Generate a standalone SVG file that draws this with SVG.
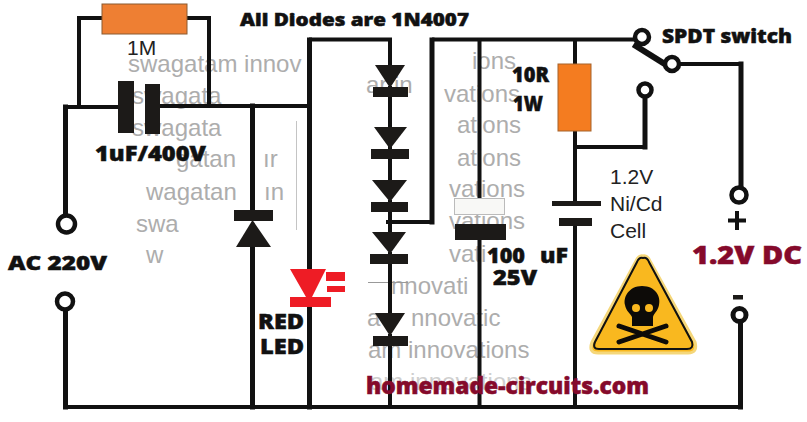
<svg xmlns="http://www.w3.org/2000/svg" width="807" height="422" viewBox="0 0 807 422">
<style>
.w{fill:none;stroke:#111;stroke-width:4;stroke-linecap:square}
.t{stroke:#111;stroke-width:5}
.k{fill:#1c1a18}
.p{fill:#fff;stroke:#111;stroke-width:4.5}
.g{font-family:"Liberation Sans",Arial,sans-serif;font-size:24px;fill:#adadad}
.b{font-family:"Open Sans","Noto Sans",sans-serif;font-weight:800;fill:#111;stroke:#111;stroke-width:.5}
.m{fill:#850a2b;stroke:#850a2b}
.r{font-family:"Liberation Sans",Arial,sans-serif;font-size:21px;fill:#222}
</style>
<rect width="807" height="422" fill="#fff"/>
<g id="watermark">
<text class="g" x="128" y="72">swagatam innov</text>
<text class="g" x="132" y="104">swagata</text>
<text class="g" x="132" y="136">swagata</text>
<text class="g" x="176" y="167">gatan</text>
<text class="g" x="263" y="167">ır</text>
<text class="g" x="146" y="200">wagatan</text>
<text class="g" x="264" y="200">ın</text>
<text class="g" x="136" y="232">swa</text>
<text class="g" x="146" y="263">w</text>
<text class="g" x="366" y="93">ar in</text>
<text class="g" x="472" y="69">ions</text>
<text class="g" x="444" y="102">vations</text>
<text class="g" x="457" y="133">ations</text>
<text class="g" x="457" y="166">ations</text>
<text class="g" x="449" y="197">vations</text>
<text class="g" x="449" y="229">vations</text>
<text class="g" x="449" y="262">vati</text>
<text class="g" x="391" y="294">nnovati</text>
<text class="g" x="367" y="326">a</text>
<text class="g" x="411" y="326">nnovatic</text>
<text class="g" x="368" y="358">am innovations</text>
<text class="g" x="370" y="390" style="fill:#cfcfcf">am innovations</text>
<path d="M296.500 121V230" stroke="#c4c4c4" stroke-width="1" fill="none"/>
<path d="M368 282.500H408" stroke="#999" stroke-width="1" fill="none"/>
</g>
<g id="connectors">
<path class="w" d="M79 107V18H102M187 18H209V106"/>
<path class="w" d="M66 107H118M160 106H309"/>
<path class="w t" d="M65.500 107V215M65.500 308V407"/>
<path class="w" d="M66 407H738"/>
<path class="w t" d="M252.500 106V210M252.500 246V407"/>
<path class="w t" d="M309.500 40V407"/>
<path class="w" d="M311 39.500H390V65M390 88V127M390 148V180M390 202V232M390 254V313M390 336V407"/>
<path class="w" d="M388 222H432"/>
<path class="w t" d="M432 222V40"/>
<path class="w" d="M434 39.500H636"/>
<path class="w" d="M479.500 40V197M479.500 240V407"/>
<path class="w" d="M575 40V64M575 131V203M575 226V407"/>
<path class="w" d="M575 147H645"/>
<path class="w t" d="M645 147V97"/>
<path class="w" d="M636 46L668 66" style="stroke-width:6"/>
<path class="w" d="M679 64H741"/>
<path class="w t" d="M741 64V187M740.500 322V407"/>
</g>
<g id="r1"><rect x="102" y="4" width="85" height="30" fill="#ee7f33" stroke="#8a5a30" stroke-width="1"/><text class="r" x="127" y="55">1M</text></g>
<g id="c1"><rect class="k" x="118" y="81" width="16" height="52"/><rect class="k" x="145" y="84" width="15" height="50"/><text class="b" x="95" y="161" font-size="21" textLength="111" lengthAdjust="spacingAndGlyphs">1uF/400V</text></g>
<g id="ac"><circle class="p" cx="66.500" cy="224" r="8.500"/><circle class="p" cx="65" cy="301.500" r="8"/><text class="b" x="8" y="270" font-size="20" textLength="99" lengthAdjust="spacingAndGlyphs">AC 220V</text></g>
<g id="zener"><rect class="k" x="234" y="210" width="39" height="11"/><path class="k" d="M252.500 220L271 247H236Z"/></g>
<g id="led"><path fill="#ee1c25" d="M290 269H326L312 297H331V307H290V297H306ZM326 272H345V281H326ZM327 286H345V292H327Z"/><text class="b" x="258" y="329" font-size="21" textLength="46" lengthAdjust="spacingAndGlyphs">RED</text><text class="b" x="260" y="354" font-size="21" textLength="44" lengthAdjust="spacingAndGlyphs">LED</text></g>
<g id="d1"><path class="k" d="M375 65H405L390 88Z"/><rect class="k" x="373" y="87" width="35" height="10"/></g>
<g id="d2"><path class="k" d="M374 127H407L390 149Z"/><rect class="k" x="371" y="149" width="38" height="10"/></g>
<g id="d3"><path class="k" d="M372 180H407L390 202Z"/><rect class="k" x="371" y="202" width="37" height="10"/></g>
<g id="d4"><path class="k" d="M372 232H406L390 254Z"/><rect class="k" x="370" y="254" width="38" height="10"/></g>
<g id="d5"><path class="k" d="M375 313H405L390 336Z"/><rect class="k" x="373" y="336" width="35" height="10"/></g>
<g id="c2"><rect x="454.500" y="198.500" width="50" height="16" fill="#f8f8f6" stroke="#bbb" stroke-width="1"/><rect class="k" x="455" y="224" width="51" height="16"/><text class="b" x="487" y="263" font-size="21" textLength="38" lengthAdjust="spacingAndGlyphs">100</text><text class="b" x="540" y="263" font-size="21" textLength="28" lengthAdjust="spacingAndGlyphs">uF</text><text class="b" x="493" y="285" font-size="21" textLength="44" lengthAdjust="spacingAndGlyphs">25V</text></g>
<g id="r2"><rect x="558" y="64" width="33" height="67" fill="#f47c20" stroke="#a5622a" stroke-width="1"/><text class="b" x="512" y="82" font-size="21" textLength="37" lengthAdjust="spacingAndGlyphs">10R</text><text class="b" x="513" y="111" font-size="21" textLength="30" lengthAdjust="spacingAndGlyphs">1W</text></g>
<g id="cell"><rect class="k" x="552" y="201" width="49" height="5"/><rect class="k" x="559" y="218" width="33" height="8"/><text class="r" x="610" y="184">1.2V</text><text class="r" x="610" y="211">Ni/Cd</text><text class="r" x="610" y="238">Cell</text></g>
<g id="switch"><circle class="p" cx="642" cy="37" r="7"/><circle class="p" cx="672" cy="64" r="7"/><circle class="p" cx="645" cy="90" r="6.500"/><text class="b" x="662" y="43" font-size="19" textLength="130" lengthAdjust="spacingAndGlyphs">SPDT switch</text></g>
<g id="output"><circle class="p" cx="739" cy="195" r="7.500"/><circle class="p" cx="739.500" cy="315" r="6.500" style="stroke-width:5"/>
<path d="M728 220.500H746M737 211V230" stroke="#111" stroke-width="4" fill="none"/><rect class="k" x="733" y="295" width="10" height="4.500"/>
<text class="b m" x="692" y="264" font-size="25" textLength="110" lengthAdjust="spacingAndGlyphs">1.2V DC</text></g>
<g id="warning">
<path d="M643 256Q647 255 650 261L695 342Q698 353 688 353H598Q588 353 592 342L636 261Q639 255 643 256Z" fill="#f9b81f" stroke="#f5d77a" stroke-width="3"/>
<path d="M643 258Q647 257 649 262L692 342Q694 349 687 349H599Q592 349 595 342L637 262Q639 257 643 258Z" fill="#f9b81f" stroke="#111" stroke-width="2"/>
<path fill="#0d0b08" d="M642 286C656 286 661 297 659 305C658 311 654 313 653 317V326H632V317C630 313 626 311 625 305C623 297 629 286 642 286Z"/>
<circle cx="636" cy="308" r="4" fill="#f9b81f"/><circle cx="649" cy="308" r="4" fill="#f9b81f"/>
<path d="M619 326L666 342M666 326L619 342" stroke="#0d0b08" stroke-width="5" stroke-linecap="round" fill="none"/>
</g>
<g id="labels">
<text class="b" x="240" y="26" font-size="18" textLength="229" lengthAdjust="spacingAndGlyphs">All Diodes are 1N4007</text>
<text class="b m" x="366" y="394" font-size="22" textLength="283" lengthAdjust="spacingAndGlyphs">homemade-circuits.com</text>
</g>
</svg>
